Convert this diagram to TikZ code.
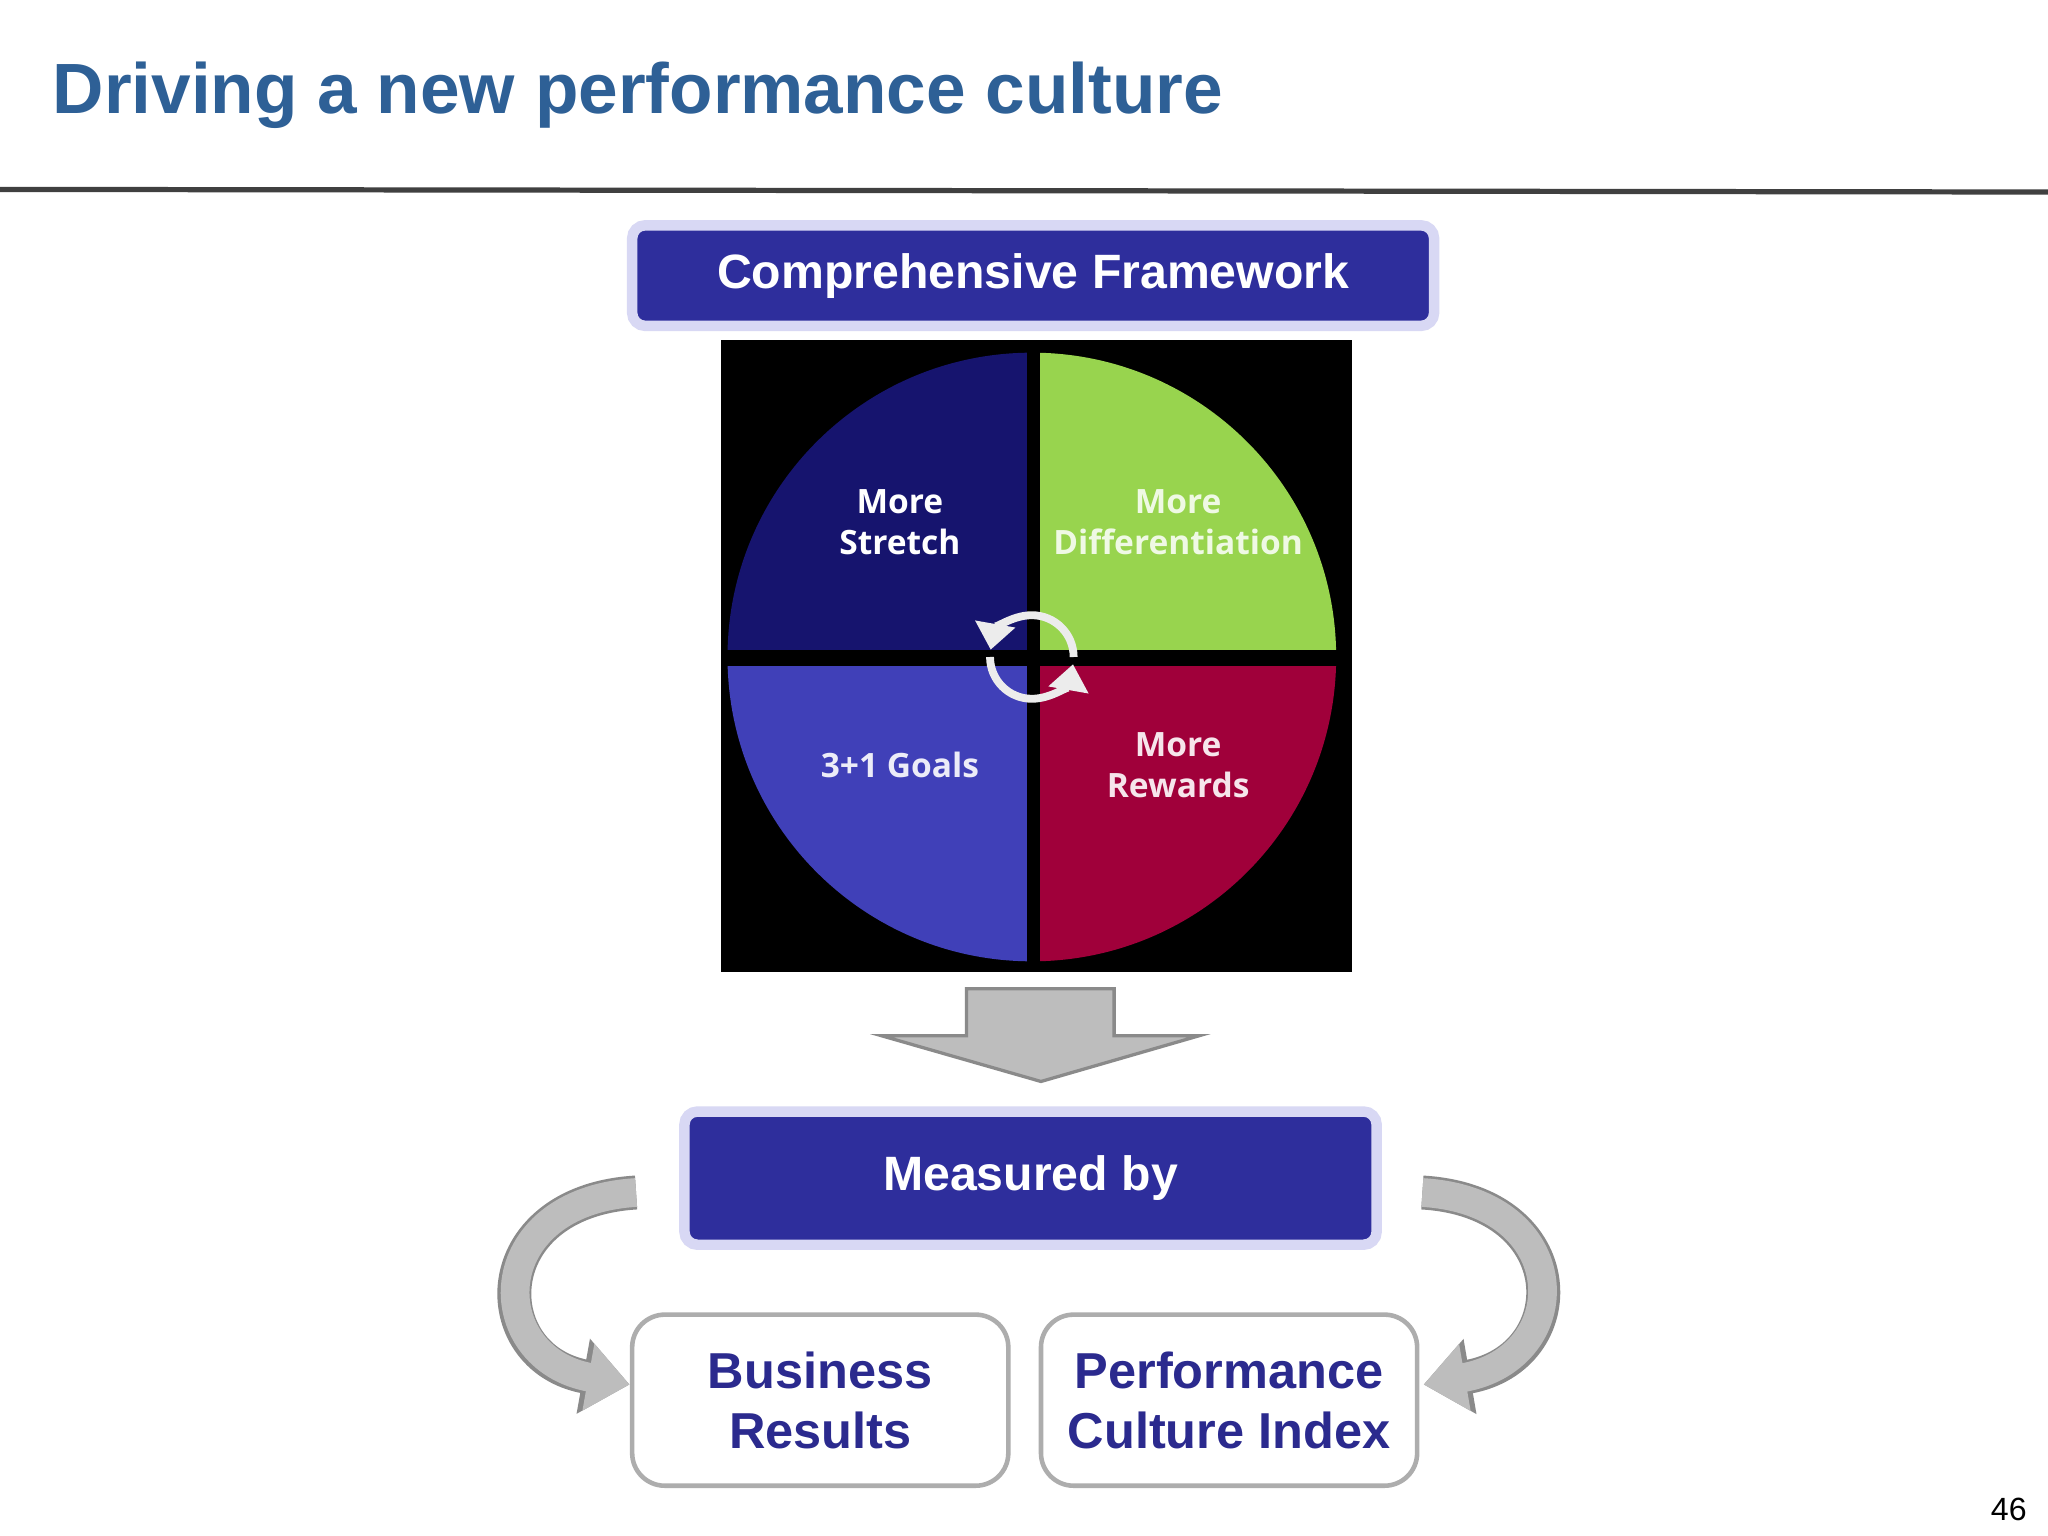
\documentclass[tikz,border=0pt]{standalone}
\usepackage{fontspec}
\setmainfont{Liberation Sans}
\newfontfamily\quadfont{Open Sans}
\usetikzlibrary{arrows.meta}
\definecolor{titleblue}{HTML}{2E6096}
\definecolor{boxblue}{HTML}{2E2E9C}
\definecolor{boxrim}{HTML}{D8D8F4}
\definecolor{txtblue}{HTML}{2B2A8E}
\definecolor{qtl}{HTML}{16146E}
\definecolor{qtr}{HTML}{98D44E}
\definecolor{qbl}{HTML}{4040B8}
\definecolor{qbr}{HTML}{A0003A}
\definecolor{arrgray}{HTML}{BDBDBD}
\definecolor{arredge}{HTML}{8A8A8A}
\tikzset{
  headbox/.style={fill=boxblue,draw=boxrim,line width=0.8mm,rounded corners=1mm,text=white,font=\bfseries\fontsize{10.5}{12}\selectfont,inner sep=0},
  resbox/.style={fill=white,draw=arredge!70,line width=0.35mm,rounded corners=2.5mm,text=txtblue,font=\bfseries\fontsize{11}{13}\selectfont,align=center,inner sep=0},
  qtext/.style={font=\quadfont\bfseries\fontsize{7.3}{9}\selectfont,align=center},
  curvarr/.style={line width=2.2mm,draw=arrgray,-{Triangle[length=3.2mm,width=5mm]},
     preaction={draw=arredge,line width=2.6mm,-{Triangle[length=3.6mm,width=5.6mm]}}}
}
\begin{document}
\begin{tikzpicture}[x=0.1mm,y=-0.1mm]
\useasboundingbox[fill=white] (0,0) rectangle (1568,1176);
\node[anchor=west,text=titleblue,font=\bfseries\fontsize{15.5}{18}\selectfont] (title) at (28,73) {Driving a new performance culture};
\draw[line width=0.4mm,draw=black!75] (0,145) -- (1568,147);
\node[headbox,minimum width=61.4mm,minimum height=7.7mm] (cf) at (791,211) {Comprehensive Framework};
% pie
\fill[black] (552,260) rectangle (1035,744);
\begin{scope}
\clip (790,503) circle (233);
\fill[qtl] (550,260) rectangle (786,498);
\fill[qtr] (796,260) rectangle (1040,498);
\fill[qbl] (550,510) rectangle (786,750);
\fill[qbr] (796,510) rectangle (1040,750);
\end{scope}
\node[qtext,text=white] (q1) at (689,400) {More\\Stretch};
\node[qtext,text=white!85!qtr] (q2) at (902,400) {More\\Differentiation};
\node[qtext,text=white!90!qbl] (q3) at (689,586) {3+1 Goals};
\node[qtext,text=white!90!qbr] (q4) at (902,586) {More\\Rewards};
\coordinate (c) at (790,503);
\draw[line width=0.6mm,draw=white!85!gray,-{Triangle[length=2mm,width=3mm]}] ([shift={(180:32)}]c) arc[start angle=180,end angle=10,radius=32];
\draw[line width=0.6mm,draw=white!85!gray,-{Triangle[length=2mm,width=3mm]}] ([shift={(0:32)}]c) arc[start angle=0,end angle=-170,radius=32];
% down arrow
\draw[fill=arrgray,draw=arredge,line width=0.25mm] (740,757) -- (853,757) -- (853,793) -- (918,793) -- (797,828) -- (675,793) -- (740,793) -- cycle;
\node[headbox,minimum width=53mm,minimum height=10.2mm] (mb) at (789,902) {Measured by};
\node[resbox,minimum width=28.8mm,minimum height=13.1mm] (br) at (628,1072) {Business\\Results};
\node[resbox,minimum width=28.8mm,minimum height=13.1mm] (pc) at (941,1072) {Performance\\Culture Index};
\coordinate (l1) at (487,913);
\coordinate (l2) at (482,1060);
\coordinate (r1) at (1089,913);
\coordinate (r2) at (1090,1060);
\draw[curvarr] (l1) .. controls (370,920) and (370,1040) .. (l2);
\draw[curvarr] (r1) .. controls (1206,920) and (1206,1040) .. (r2);
\node[font=\fontsize{7}{8}\selectfont] (pg) at (1538,1156) {46};
\end{tikzpicture}
\end{document}
